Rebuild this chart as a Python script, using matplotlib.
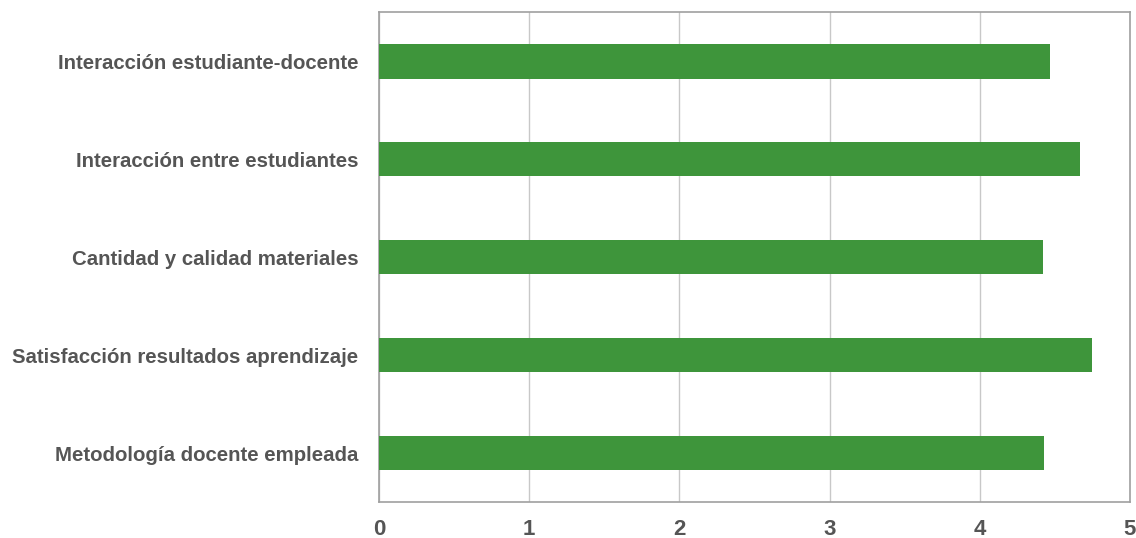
import matplotlib.pyplot as plt

# categorías (de arriba abajo) y puntuaciones medias
categorias = [
    "Interacción estudiante-docente",
    "Interacción entre estudiantes",
    "Cantidad y calidad materiales",
    "Satisfacción resultados aprendizaje",
    "Metodología docente empleada",
]
valores = [4.47, 4.67, 4.42, 4.75, 4.43]
ticks_x = [0, 1, 2, 3, 4, 5]

plt.rcParams['font.family'] = ['Liberation Sans', 'DejaVu Sans']

fig = plt.figure(figsize=(11.36, 5.38), dpi=100)
ax = fig.add_axes([0.3336, 0.0669, 0.6611, 0.9099])

pos = list(range(len(categorias)))
ax.barh(pos, valores, height=0.35, color="#3e953b", zorder=3)

ax.set_ylim(len(categorias) - 0.5, -0.5)
ax.set_xlim(0, 5)
ax.set_xticks(ticks_x)
ax.set_yticks(pos)
ax.set_yticklabels(categorias)

ax.grid(axis='x', color="#c8c8c8", linewidth=1, zorder=0)
for s in ax.spines.values():
    s.set_color("#a0a0a0")
    s.set_linewidth(1.2)

ax.tick_params(axis='both', length=0, labelcolor="#555555")
ax.tick_params(axis='x', pad=12, labelsize=16)
ax.tick_params(axis='y', pad=15, labelsize=14.7)
for lbl in ax.get_xticklabels() + ax.get_yticklabels():
    lbl.set_fontweight('bold')

fig.savefig("out.png", dpi=100)
